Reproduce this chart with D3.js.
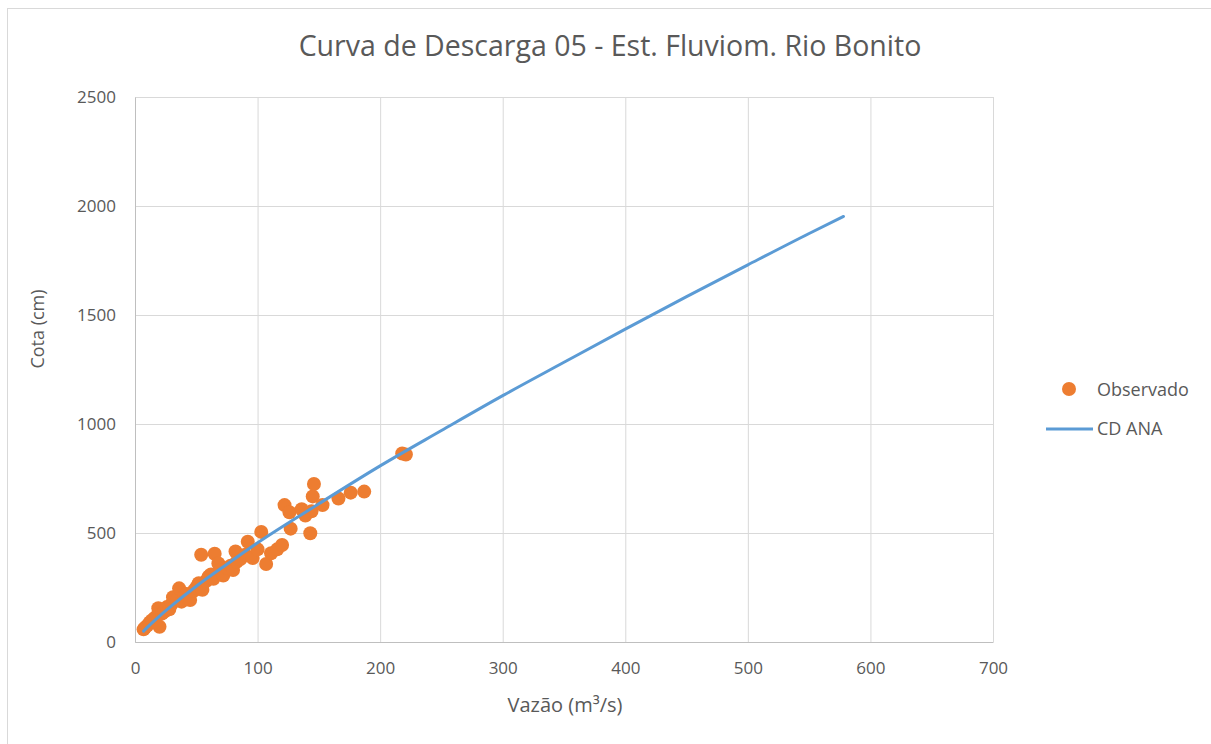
<!doctype html>
<html lang="pt">
<head>
  <meta charset="utf-8">
  <style>
    body { margin: 0; background: #fff; }
    text { font-family: "Open Sans", "Liberation Sans", sans-serif; fill: #595959; }
  </style>
</head>
<body>
  <script src="https://d3js.org/d3.v7.min.js"></script>
  <div id="chart"></div>
  <script>
    // Observado: vazao (m3/s) x cota (cm)
    var obsQ = [7, 8, 10, 12, 14, 16, 18, 19, 20, 22, 24, 26, 28, 30, 31, 34, 36, 38, 40, 42, 45, 48, 50, 52, 54, 55,
                58, 60, 62, 64, 65, 68, 70, 72, 75, 78, 80, 82, 83, 86, 90, 92, 96, 100, 103, 107, 111, 116, 120,
                122, 126, 127, 136, 139, 143, 144, 145, 146, 153, 166, 176, 187, 218, 221];
    var obsH = [58, 65, 75, 90, 100, 110, 120, 155, 70, 130, 140, 160, 150, 175, 205, 190, 246, 185, 210, 220, 193, 235, 250, 270, 400, 240,
                280, 300, 310, 290, 405, 360, 330, 305, 340, 350, 330, 415, 368, 380, 400, 460, 385, 425, 505, 358, 407, 425, 445,
                628, 595, 520, 609, 580, 499, 600, 668, 725, 628, 658, 685, 690, 865, 860];

    // CD ANA curve
    var curveQ = [7, 10, 20, 30, 50, 75, 100, 150, 200, 250, 300, 350, 400, 450, 500, 550, 578];
    var curveH = [50, 67, 119, 167, 256, 357, 455, 634, 808, 970, 1130, 1283, 1435, 1584, 1730, 1874, 1952];

    var xTicks = [0, 100, 200, 300, 400, 500, 600, 700];
    var yTicks = [0, 500, 1000, 1500, 2000, 2500];

    var width = 1211, height = 744;
    var margin = {left: 135, right: 218, top: 97, bottom: 102};

    var svg = d3.select("#chart").append("svg")
      .attr("width", width)
      .attr("height", height);

    // outer chart border
    svg.append("rect")
      .attr("x", 7.5).attr("y", 8.5)
      .attr("width", width).attr("height", height)
      .attr("fill", "none")
      .attr("stroke", "#d9d9d9");

    var x = d3.scaleLinear().domain([0, 700]).range([margin.left, width - margin.right]);
    var y = d3.scaleLinear().domain([0, 2500]).range([height - margin.bottom, margin.top]);

    // gridlines
    svg.append("g").selectAll("line").data(xTicks).enter()
      .append("line")
      .attr("x1", d => x(d) + 0.5).attr("x2", d => x(d) + 0.5)
      .attr("y1", y(0)).attr("y2", y(2500))
      .attr("stroke", "#d9d9d9").attr("stroke-width", 1);
    svg.append("g").selectAll("line").data(yTicks).enter()
      .append("line")
      .attr("y1", d => y(d) + 0.5).attr("y2", d => y(d) + 0.5)
      .attr("x1", x(0)).attr("x2", x(700))
      .attr("stroke", "#d9d9d9").attr("stroke-width", 1);

    // axes (labels only)
    var fmt = d3.format("d");
    var xAxis = svg.append("g")
      .attr("transform", "translate(0," + y(0) + ")")
      .call(d3.axisBottom(x).tickValues(xTicks).tickFormat(fmt).tickSize(0).tickPadding(20));
    xAxis.select(".domain").attr("stroke", "#bfbfbf");
    xAxis.selectAll("text").style("font-size", "17px").attr("fill", "#595959");

    var yAxis = svg.append("g")
      .attr("transform", "translate(" + x(0) + ",0)")
      .call(d3.axisLeft(y).tickValues(yTicks).tickFormat(fmt).tickSize(0).tickPadding(19));
    yAxis.select(".domain").attr("stroke", "#bfbfbf");
    yAxis.selectAll("text").style("font-size", "17px").attr("fill", "#595959");

    // observed points
    var obs = obsQ.map((q, i) => [q, obsH[i]]);
    svg.append("g").selectAll("circle").data(obs).enter()
      .append("circle")
      .attr("cx", d => x(d[0]))
      .attr("cy", d => y(d[1]))
      .attr("r", 7)
      .attr("fill", "#ed7d31");

    // CD ANA line
    var curve = curveQ.map((q, i) => [q, curveH[i]]);
    svg.append("path")
      .datum(curve)
      .attr("fill", "none")
      .attr("stroke", "#5b9bd5")
      .attr("stroke-width", 3)
      .attr("stroke-linecap", "round")
      .attr("d", d3.line().x(d => x(d[0])).y(d => y(d[1])).curve(d3.curveMonotoneX));

    // title
    svg.append("text")
      .attr("x", 610).attr("y", 56)
      .attr("text-anchor", "middle")
      .style("font-size", "28.5px")
      .text("Curva de Descarga 05 - Est. Fluviom. Rio Bonito");

    // axis titles
    svg.append("text")
      .attr("x", 565).attr("y", 712)
      .attr("text-anchor", "middle")
      .style("font-size", "20px")
      .text("Vazão (m³/s)");
    svg.append("text")
      .attr("transform", "translate(44,329) rotate(-90)")
      .attr("text-anchor", "middle")
      .style("font-size", "18px")
      .text("Cota (cm)");

    // legend
    var legend = svg.append("g");
    legend.append("circle")
      .attr("cx", 1069).attr("cy", 389).attr("r", 7)
      .attr("fill", "#ed7d31");
    legend.append("text")
      .attr("x", 1097).attr("y", 396)
      .style("font-size", "18px")
      .text("Observado");
    legend.append("line")
      .attr("x1", 1046).attr("x2", 1093)
      .attr("y1", 429).attr("y2", 429)
      .attr("stroke", "#5b9bd5").attr("stroke-width", 3);
    legend.append("text")
      .attr("x", 1097).attr("y", 435)
      .style("font-size", "18px")
      .text("CD ANA");
  </script>
</body>
</html>
